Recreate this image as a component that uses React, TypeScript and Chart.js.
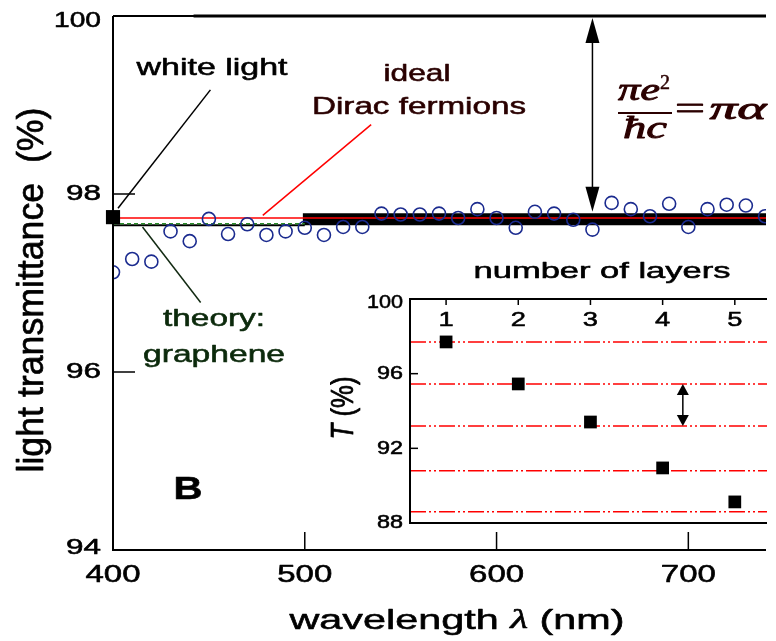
import React, { useEffect, useRef } from "react";
import { Chart, registerables } from "chart.js";
Chart.register(...registerables);

// ---------- data ----------
const wavelengths = [400, 410, 420, 430, 440, 450, 460, 470, 480, 490, 500, 510, 520, 530, 540, 550, 560, 570, 580, 590, 600, 610, 620, 630, 640, 650, 660, 670, 680, 690, 700, 710, 720, 730, 740];
const transmittance = [97.12, 97.27, 97.24, 97.58, 97.47, 97.72, 97.55, 97.66, 97.54, 97.58, 97.62, 97.54, 97.63, 97.63, 97.78, 97.77, 97.77, 97.78, 97.73, 97.83, 97.73, 97.62, 97.8, 97.78, 97.71, 97.6, 97.9, 97.83, 97.75, 97.89, 97.63, 97.83, 97.88, 97.87, 97.75];
const whiteLightT = 97.74;
const idealT = 97.73;
const bandT = 97.715;
const theoryT = 97.65;
const greenT = 97.665;
const xTicks = [400, 500, 600, 700];
const yTicks = [94, 96, 98, 100];

const layers = [1, 2, 3, 4, 5];
const layerT = [97.7, 95.45, 93.41, 90.95, 89.13];
const layerLinesT = [97.7, 95.45, 93.2, 90.8, 88.6];
const insetYTicks = [88, 92, 96, 100];

const FONT = '"Liberation Sans", Arial, Helvetica, sans-serif';
const SERIF = '"Liberation Serif", "Times New Roman", serif';

type Seg = { t: string; f: string };
function drawText(ctx: CanvasRenderingContext2D, segs: Seg[], cx: number, cy: number, o: { w?: number; sx?: number; sy?: number; color?: string; rot?: number; stroke?: number }) {
  ctx.save();
  const ws = segs.map((s) => { ctx.font = s.f; return ctx.measureText(s.t).width; });
  const total = ws.reduce((a, b) => a + b, 0);
  const sx = o.w ? o.w / total : (o.sx ?? 1);
  ctx.translate(cx, cy);
  if (o.rot) ctx.rotate(o.rot);
  ctx.scale(sx, o.sy ?? 1);
  const col = o.color ?? "#000";
  const sw = o.stroke ?? 0.55;
  ctx.fillStyle = col;
  ctx.strokeStyle = col;
  ctx.lineWidth = sw;
  ctx.lineJoin = "round";
  ctx.textBaseline = "middle";
  ctx.textAlign = "left";
  let x = -total / 2;
  segs.forEach((s, i) => {
    ctx.font = s.f;
    ctx.fillText(s.t, x, 0);
    if (sw > 0) ctx.strokeText(s.t, x, 0);
    x += ws[i];
  });
  ctx.restore();
}
function line(ctx: CanvasRenderingContext2D, x1: number, y1: number, x2: number, y2: number, w: number, c: string) {
  ctx.save();
  ctx.strokeStyle = c; ctx.lineWidth = w; ctx.beginPath(); ctx.moveTo(x1, y1); ctx.lineTo(x2, y2); ctx.stroke();
  ctx.restore();
}
function head(ctx: CanvasRenderingContext2D, x: number, tip: number, dir: number, len: number, hw: number) {
  ctx.save();
  ctx.fillStyle = "#000";
  ctx.beginPath(); ctx.moveTo(x, tip); ctx.lineTo(x - hw, tip + dir * len); ctx.lineTo(x + hw, tip + dir * len); ctx.closePath(); ctx.fill();
  ctx.restore();
}

const mainPlugin = {
  id: "mainDecor",
  afterDraw(chart: any) {
    const ctx: CanvasRenderingContext2D = chart.ctx;
    const a = chart.chartArea;
    const X = (v: number) => chart.scales.x.getPixelForValue(v);
    const Y = (v: number) => chart.scales.y.getPixelForValue(v);
    // frame
    line(ctx, a.left, a.top, a.left, a.bottom + 1, 2, "#000");
    line(ctx, a.left - 1, a.bottom, a.right, a.bottom, 2, "#000");
    line(ctx, a.left, a.top, a.right, a.top, 2, "#000");
    line(ctx, X(442), a.top, a.right, a.top, 3, "#000");
    // ticks
    [96, 98].forEach((v) => line(ctx, a.left, Y(v), a.left + 22, Y(v), 1.5, "#000"));
    [500, 600, 700].forEach((v) => line(ctx, X(v), a.bottom, X(v), a.bottom - 18, 1.5, "#000"));
    // tick labels
    yTicks.forEach((v) => {
      const w = v >= 100 ? 47 : 35;
      const cy = Math.min(Math.max(Y(v), 21), 548);
      drawText(ctx, [{ t: String(v), f: `22px ${FONT}` }], 101 - w / 2, cy, { w });
    });
    xTicks.forEach((v) => drawText(ctx, [{ t: String(v), f: `23px ${FONT}` }], X(v), 576, { w: 55 }));
    // axis titles
    drawText(ctx, [{ t: "light transmittance  (%)", f: `29px ${FONT}` }], 33, 290, { w: 365, sy: 1.25, rot: -Math.PI / 2 });
    drawText(ctx, [{ t: "wavelength ", f: `28px ${FONT}` }, { t: "λ", f: `italic 28px ${SERIF}` }, { t: " (nm)", f: `28px ${FONT}` }], 457, 621, { w: 335 });
    // annotations
    drawText(ctx, [{ t: "white light", f: `24px ${FONT}` }], 212, 68, { w: 151 });
    line(ctx, X(402.6), Y(97.84), X(450.8), Y(99.17), 1.5, "#000");
    drawText(ctx, [{ t: "ideal", f: `24px ${FONT}` }], 417, 74, { w: 67, color: "#2a0000" });
    drawText(ctx, [{ t: "Dirac fermions", f: `24px ${FONT}` }], 419, 107, { w: 214, color: "#2a0000" });
    line(ctx, X(478.1), Y(97.76), X(534.6), Y(98.78), 1.5, "#ff0000");
    drawText(ctx, [{ t: "theory:", f: `24px ${FONT}` }], 214, 319, { w: 102, color: "#0c2a0c" });
    drawText(ctx, [{ t: "graphene", f: `24px ${FONT}` }], 214, 355, { w: 142, color: "#0c2a0c" });
    line(ctx, X(415.4), Y(97.63), X(445.7), Y(96.78), 1.5, "#122a12");
    drawText(ctx, [{ t: "B", f: `bold 32px ${FONT}` }], 188, 490, { w: 29 });
    // double arrow
    const ax = X(650);
    line(ctx, ax, Y(100) + 10, ax, Y(97.8) - 10, 1.5, "#000");
    head(ctx, ax, Y(100) + 2, 1, 25, 7);
    head(ctx, ax, Y(97.8), -1, 25, 7);
    // formula
    const fc = "#2b0000";
    drawText(ctx, [{ t: "πe", f: `italic 32px ${SERIF}` }], 639, 92, { w: 42, color: fc, stroke: 0.9 });
    drawText(ctx, [{ t: "2", f: `20px ${SERIF}` }], 665, 84, { w: 10, color: fc, stroke: 0.5 });
    line(ctx, 618, 113, 672, 113, 2, fc);
    drawText(ctx, [{ t: "ħc", f: `italic 32px ${SERIF}` }], 645, 130, { w: 44, color: fc, stroke: 0.9 });
    drawText(ctx, [{ t: "=", f: `32px ${SERIF}` }], 690, 111, { w: 30, color: fc, stroke: 0.9 });
    drawText(ctx, [{ t: "πα", f: `italic 32px ${SERIF}` }], 738, 111, { w: 57, color: fc, stroke: 0.9 });
  },
};

const insetPlugin = {
  id: "insetDecor",
  afterDraw(chart: any) {
    const ctx: CanvasRenderingContext2D = chart.ctx;
    const a = chart.chartArea;
    const X = (v: number) => chart.scales.x.getPixelForValue(v);
    const Y = (v: number) => chart.scales.y.getPixelForValue(v);
    line(ctx, a.left, a.top - 1, a.left, a.bottom + 1, 2, "#000");
    line(ctx, a.left, a.top, a.right, a.top, 2, "#000");
    line(ctx, a.left, a.bottom, a.right, a.bottom, 2, "#000");
    layers.forEach((v) => {
      line(ctx, X(v), a.top, X(v), a.top + 6, 1.5, "#000");
      drawText(ctx, [{ t: String(v), f: `21px ${FONT}` }], X(v), a.top + 21, { sx: 1.3 });
    });
    [92, 96].forEach((v) => line(ctx, a.left, Y(v), a.left + 8, Y(v), 1.5, "#000"));
    insetYTicks.forEach((v) => {
      const w = v >= 100 ? 36 : 26;
      const cy = v >= 100 ? Y(v) + 4 : Y(v);
      drawText(ctx, [{ t: String(v), f: `19px ${FONT}` }], a.left - 7 - w / 2, cy, { w });
    });
    drawText(ctx, [{ t: "number of layers", f: `22px ${FONT}` }], 272, 22, { w: 257 });
    drawText(ctx, [{ t: "T", f: `italic 24px ${FONT}` }, { t: " (%)", f: `24px ${FONT}` }], 14, 158, { w: 63, sy: 1.3, rot: -Math.PI / 2 });
    const ax = X(4.28);
    line(ctx, ax, Y(95.45) + 6, ax, Y(93.2) - 6, 1.5, "#000");
    head(ctx, ax, Y(95.45), 1, 11, 6);
    head(ctx, ax, Y(93.2), -1, 11, 6);
  },
};

export default function App() {
  const mainRef = useRef<HTMLCanvasElement>(null);
  const insetRef = useRef<HTMLCanvasElement>(null);
  useEffect(() => {
    const circleData = wavelengths.map((w, i) => ({ x: w, y: transmittance[i] }));
    const main = new Chart(mainRef.current as HTMLCanvasElement, {
      type: "scatter",
      data: {
        datasets: [
          { label: "white light", data: [{ x: 400, y: whiteLightT }], pointStyle: "rect", pointRadius: 10, backgroundColor: "#000", borderColor: "#000", borderWidth: 0, clip: false, order: 0 } as any,
          { label: "measured", data: circleData, pointStyle: "circle", pointRadius: 6.5, borderColor: "#1b2b8f", backgroundColor: "rgba(0,0,0,0)", borderWidth: 1.6, order: 1 },
          { label: "ideal", data: [{ x: 400, y: idealT }, { x: 760, y: idealT }], showLine: true, borderColor: "#ff0000", borderWidth: 1.5, pointRadius: 0, order: 2 },
          { label: "theory dashed", data: [{ x: 400, y: greenT }, { x: 500, y: greenT }], showLine: true, borderColor: "#2a8a2a", borderDash: [4, 3], borderWidth: 1.5, pointRadius: 0, order: 3 },
          { label: "theory", data: [{ x: 400, y: theoryT }, { x: 500, y: theoryT }], showLine: true, borderColor: "#000", borderWidth: 2, pointRadius: 0, order: 4 },
          { label: "band", data: [{ x: 499, y: bandT }, { x: 760, y: bandT }], showLine: true, borderColor: "#000", borderWidth: 12, borderCapStyle: "butt", pointRadius: 0, order: 5 },
        ],
      },
      options: {
        responsive: false,
        animation: false,
        events: [],
        layout: { padding: { top: 16, left: 0, right: 0, bottom: 0 } },
        plugins: { legend: { display: false }, tooltip: { enabled: false } },
        scales: {
          x: { type: "linear", position: "bottom", min: 400, max: 740.5, grid: { display: false }, border: { display: false }, ticks: { display: false }, afterFit: (s: any) => { s.height = 91; } },
          y: { type: "linear", position: "left", min: 94, max: 100, grid: { display: false }, border: { display: false }, ticks: { display: false }, afterFit: (s: any) => { s.width = 113; } },
        },
      },
      plugins: [mainPlugin],
    } as any);

    const lineSets = layerLinesT.map((t, i) => ({
      label: "n" + (i + 1),
      data: [{ x: 0.5, y: t }, { x: 6, y: t }],
      showLine: true,
      borderColor: "#ff0000",
      borderWidth: 1.5,
      borderDash: [16, 3, 2, 3, 2, 3],
      pointRadius: 0,
      order: 2,
    }));
    const inset = new Chart(insetRef.current as HTMLCanvasElement, {
      type: "scatter",
      data: {
        datasets: [
          { label: "T", data: layers.map((n, i) => ({ x: n, y: layerT[i] })), pointStyle: "rect", pointRadius: 9, backgroundColor: "#000", borderColor: "#000", borderWidth: 0, order: 0 },
          ...lineSets,
        ],
      },
      options: {
        responsive: false,
        animation: false,
        events: [],
        layout: { padding: { top: 0, left: 0, right: 0, bottom: 27 } },
        plugins: { legend: { display: false }, tooltip: { enabled: false } },
        scales: {
          x: { type: "linear", position: "top", min: 0.5, max: 5.446, grid: { display: false }, border: { display: false }, ticks: { display: false }, afterFit: (s: any) => { s.height = 49; } },
          y: { type: "linear", position: "left", min: 88, max: 100, grid: { display: false }, border: { display: false }, ticks: { display: false }, afterFit: (s: any) => { s.width = 80; } },
        },
      },
      plugins: [insetPlugin],
    } as any);
    return () => { main.destroy(); inset.destroy(); };
  }, []);
  return (
    <div style={{ position: "absolute", left: 0, top: 0, width: 776, height: 641, background: "#fff" }}>
      <canvas ref={mainRef} width={776} height={641} style={{ position: "absolute", left: 0, top: 0 }} />
      <canvas ref={insetRef} width={446} height={300} style={{ position: "absolute", left: 330, top: 250 }} />
    </div>
  );
}
